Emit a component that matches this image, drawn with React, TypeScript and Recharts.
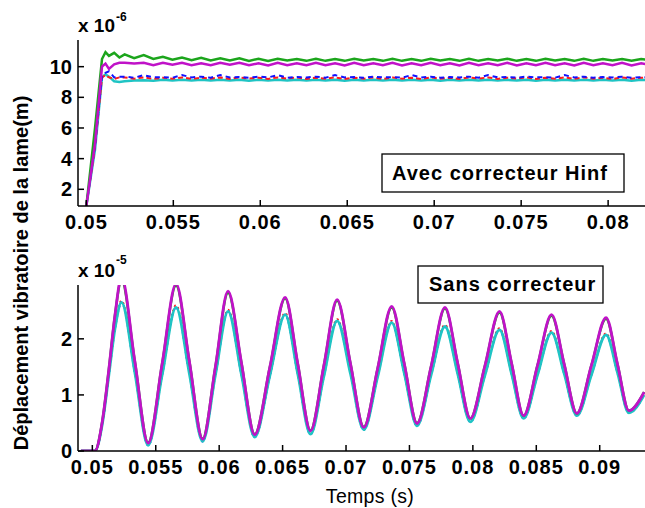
import React from "react";
import { LineChart, Line, XAxis, YAxis } from "recharts";

// ---------- Top panel: "Avec correcteur Hinf" (x 1e-6 m) ----------
const topTime = [
  0.05, 0.0505, 0.0509, 0.0511, 0.0513, 0.0516, 0.0519,
  0.0522, 0.05275, 0.0533, 0.05385, 0.0544, 0.05495, 0.0555, 0.05605, 0.0566, 0.05715,
  0.0577, 0.05825, 0.0588, 0.05935, 0.0599, 0.06045, 0.061, 0.06155, 0.0621, 0.06265,
  0.0632, 0.06375, 0.0643, 0.06485, 0.0654, 0.06595, 0.0665, 0.06705, 0.0676, 0.06815,
  0.0687, 0.06925, 0.0698, 0.07035, 0.0709, 0.07145, 0.072, 0.07255, 0.0731, 0.07365,
  0.0742, 0.07475, 0.0753, 0.07585, 0.0764, 0.07695, 0.0775, 0.07805, 0.0786, 0.07915,
  0.0797, 0.08025, 0.0808, 0.08135, 0.0819,
  0.0822,
];

const topGreen = [
  0.91, 6.0, 10.5, 10.95, 10.7, 10.9, 10.6,
  10.8, 10.55, 10.75, 10.5, 10.65, 10.45, 10.6, 10.42, 10.58, 10.4,
  10.55, 10.4, 10.55, 10.38, 10.52, 10.38, 10.52, 10.4, 10.5, 10.38,
  10.52, 10.38, 10.5, 10.38, 10.52, 10.4, 10.5, 10.38, 10.52, 10.38,
  10.5, 10.38, 10.52, 10.4, 10.5, 10.38, 10.52, 10.38, 10.5, 10.4,
  10.52, 10.38, 10.5, 10.38, 10.52, 10.4, 10.5, 10.38, 10.52, 10.38,
  10.5, 10.4, 10.5, 10.38, 10.5,
  10.45,
];

const topMagenta = [
  0.91, 5.0, 10.0, 10.2, 9.85, 10.15, 10.25,
  10.25, 10.2, 10.25, 10.1, 10.25, 10.12, 10.25, 10.1, 10.22, 10.1,
  10.25, 10.12, 10.25, 10.1, 10.22, 10.08, 10.25, 10.1, 10.22, 10.1,
  10.25, 10.1, 10.22, 10.08, 10.25, 10.1, 10.22, 10.1, 10.25, 10.08,
  10.22, 10.1, 10.25, 10.1, 10.22, 10.08, 10.25, 10.1, 10.22, 10.1,
  10.25, 10.08, 10.22, 10.1, 10.25, 10.1, 10.22, 10.08, 10.25, 10.1,
  10.22, 10.1, 10.25, 10.08, 10.22,
  10.15,
];

const topRed = [
  0.91, 4.8, 9.3, 9.45, 9.3, 9.2, 9.3,
  9.3, 9.22, 9.3, 9.2, 9.28, 9.22, 9.3, 9.2, 9.28, 9.22,
  9.3, 9.2, 9.3, 9.22, 9.28, 9.2, 9.3, 9.22, 9.3, 9.2,
  9.28, 9.22, 9.3, 9.2, 9.28, 9.22, 9.3, 9.2, 9.3, 9.22,
  9.28, 9.2, 9.3, 9.22, 9.28, 9.2, 9.3, 9.22, 9.3, 9.2,
  9.28, 9.22, 9.3, 9.2, 9.28, 9.22, 9.3, 9.2, 9.3, 9.22,
  9.28, 9.2, 9.3, 9.22, 9.28,
  9.25,
];

const topBlue = [
  0.91, 4.9, 9.4, 9.6, 9.7, 9.3, 9.35,
  9.35, 9.28, 9.45, 9.3, 9.32, 9.28, 9.45, 9.3, 9.35, 9.28,
  9.45, 9.3, 9.32, 9.28, 9.35, 9.3, 9.45, 9.28, 9.32, 9.3,
  9.35, 9.28, 9.45, 9.3, 9.32, 9.28, 9.35, 9.3, 9.32, 9.28,
  9.45, 9.3, 9.35, 9.28, 9.32, 9.3, 9.35, 9.28, 9.45, 9.3,
  9.32, 9.28, 9.35, 9.3, 9.32, 9.28, 9.45, 9.3, 9.35, 9.28,
  9.32, 9.3, 9.35, 9.28, 9.32,
  9.3,
];

const topCyan = [
  0.91, 4.6, 9.3, 9.5, 9.35, 9.05, 9.0,
  9.05, 9.1, 9.12, 9.08, 9.14, 9.1, 9.15, 9.1, 9.14, 9.1,
  9.15, 9.1, 9.14, 9.08, 9.15, 9.1, 9.14, 9.1, 9.15, 9.1,
  9.14, 9.1, 9.15, 9.08, 9.14, 9.1, 9.15, 9.1, 9.14, 9.1,
  9.15, 9.1, 9.14, 9.08, 9.15, 9.1, 9.14, 9.1, 9.15, 9.1,
  9.14, 9.1, 9.15, 9.08, 9.14, 9.1, 9.15, 9.1, 9.14, 9.1,
  9.15, 9.1, 9.14, 9.08, 9.14,
  9.12,
];

const topXTicks = [0.05, 0.055, 0.06, 0.065, 0.07, 0.075, 0.08];
const topXTickLabels = ["0.05", "0.055", "0.06", "0.065", "0.07", "0.075", "0.08"];
const topYTicks = [2, 4, 6, 8, 10];
const topYTickLabels = ["2", "4", "6", "8", "10"];

// ---------- Bottom panel: "Sans correcteur" (x 1e-5 m) ----------
const bottomTime = [
  0.0491, 0.0502, 0.0508, 0.0513, 0.0518,
  0.0523, 0.05335, 0.0544, 0.0555,
  0.0566, 0.05765, 0.0587, 0.0597,
  0.0607, 0.06175, 0.0628, 0.064,
  0.0652, 0.0662, 0.0672, 0.06825,
  0.0693, 0.07035, 0.0714, 0.0725,
  0.0736, 0.0746, 0.0756, 0.0767,
  0.0778, 0.0788, 0.0798, 0.08095,
  0.0821, 0.08305, 0.084, 0.0851,
  0.0862, 0.0872, 0.0882, 0.08935,
  0.0905, 0.0914, 0.0923, 0.0935,
];

const bottomMagenta = [
  0, 0, 0.55, 1.45, 2.45,
  3.1, 1.6, 0.14, 1.55,
  2.98, 1.6, 0.21, 1.5,
  2.85, 1.58, 0.29, 1.5,
  2.74, 1.55, 0.36, 1.52,
  2.7, 1.56, 0.42, 1.48,
  2.58, 1.55, 0.49, 1.5,
  2.56, 1.57, 0.58, 1.52,
  2.49, 1.57, 0.63, 1.53,
  2.43, 1.55, 0.67, 1.53,
  2.38, 1.55, 0.72, 1.05,
];

const bottomGreen = [
  0, 0, 0.55, 1.45, 2.45,
  3.05, 1.6, 0.15, 1.55,
  2.95, 1.6, 0.22, 1.5,
  2.82, 1.58, 0.3, 1.5,
  2.72, 1.55, 0.37, 1.52,
  2.68, 1.56, 0.43, 1.48,
  2.56, 1.55, 0.5, 1.5,
  2.54, 1.57, 0.58, 1.52,
  2.47, 1.57, 0.63, 1.53,
  2.41, 1.55, 0.67, 1.53,
  2.36, 1.55, 0.72, 1.05,
];

const bottomCyan = [
  0, 0, 0.5, 1.35, 2.2,
  2.65, 1.4, 0.1, 1.35,
  2.56, 1.38, 0.17, 1.35,
  2.49, 1.37, 0.25, 1.35,
  2.43, 1.37, 0.3, 1.33,
  2.32, 1.38, 0.38, 1.33,
  2.29, 1.38, 0.45, 1.35,
  2.22, 1.38, 0.52, 1.35,
  2.16, 1.38, 0.58, 1.36,
  2.11, 1.38, 0.63, 1.36,
  2.07, 1.4, 0.68, 1.0,
];

const bottomRed = [
  0, 0, 0.52, 1.38, 2.25,
  2.68, 1.42, 0.12, 1.37,
  2.6, 1.4, 0.19, 1.36,
  2.52, 1.38, 0.26, 1.36,
  2.46, 1.38, 0.32, 1.34,
  2.35, 1.39, 0.4, 1.34,
  2.32, 1.39, 0.47, 1.36,
  2.25, 1.39, 0.54, 1.36,
  2.19, 1.39, 0.6, 1.37,
  2.14, 1.39, 0.65, 1.37,
  2.1, 1.41, 0.7, 1.02,
];

const bottomBlue = bottomCyan;

const bottomXTicks = [0.05, 0.055, 0.06, 0.065, 0.07, 0.075, 0.08, 0.085, 0.09];
const bottomXTickLabels = ["0.05", "0.055", "0.06", "0.065", "0.07", "0.075", "0.08", "0.085", "0.09"];
const bottomYTicks = [0, 1, 2];
const bottomYTickLabels = ["0", "1", "2"];

const FONT = "'Liberation Sans', Arial, Helvetica, sans-serif";
const C_GREEN = "#1ca51c";
const C_MAGENTA = "#c012c8";
const C_RED = "#ff1a1a";
const C_BLUE = "#1010ff";
const C_CYAN = "#1fc4c4";

const topData = topTime.map((t, i) => ({
  t,
  green: topGreen[i],
  magenta: topMagenta[i],
  red: topRed[i],
  blue: topBlue[i],
  cyan: topCyan[i],
}));

const bottomData = bottomTime.map((t, i) => ({
  t,
  green: bottomGreen[i],
  magenta: bottomMagenta[i],
  red: bottomRed[i],
  blue: bottomBlue[i],
  cyan: bottomCyan[i],
}));

function makeXTick(ticks: number[], labels: string[], dy: number) {
  return (props: any) => {
    const { x, y, payload } = props;
    const idx = ticks.indexOf(payload.value);
    const label = idx >= 0 ? labels[idx] : String(payload.value);
    return (
      <g>
        <line x1={x} x2={x} y1={y} y2={y - 6} stroke="#000" strokeWidth={1.5} />
        <text
          x={x}
          y={y + dy}
          textAnchor="middle"
          dominantBaseline="central"
          fontFamily={FONT}
          fontSize={20}
          fontWeight="bold"
          letterSpacing={1}
          fill="#000"
        >
          {label}
        </text>
      </g>
    );
  };
}

function makeYTick(ticks: number[], labels: string[]) {
  return (props: any) => {
    const { x, y, payload } = props;
    const idx = ticks.indexOf(payload.value);
    const label = idx >= 0 ? labels[idx] : String(payload.value);
    return (
      <g>
        <line x1={x} x2={x + 6} y1={y} y2={y} stroke="#000" strokeWidth={1.5} />
        <text
          x={x - 6}
          y={y}
          textAnchor="end"
          dominantBaseline="central"
          fontFamily={FONT}
          fontSize={20}
          fontWeight="bold"
          fill="#000"
        >
          {label}
        </text>
      </g>
    );
  };
}

const axisLine = { stroke: "#000", strokeWidth: 1.5 };

export default function App() {
  return (
    <div
      style={{
        position: "absolute",
        left: 0,
        top: 0,
        width: 645,
        height: 508,
        background: "#fff",
        overflow: "hidden",
        fontFamily: FONT,
      }}
    >
      <div style={{ position: "absolute", left: 0, top: 0 }}>
        <LineChart width={645} height={240} data={topData} margin={{ top: 40, right: 0, bottom: 0, left: 0 }}>
          <XAxis
            type="number"
            dataKey="t"
            domain={[0.04952, 0.08212]}
            ticks={topXTicks}
            allowDataOverflow
            height={34}
            tickSize={0}
            tickMargin={0}
            tickLine={false}
            axisLine={axisLine}
            tick={makeXTick(topXTicks, topXTickLabels, 16)}
            interval={0}
          />
          <YAxis
            type="number"
            domain={[0.91, 11.74]}
            ticks={topYTicks}
            allowDataOverflow
            width={78}
            tickSize={0}
            tickMargin={0}
            tickLine={false}
            axisLine={axisLine}
            tick={makeYTick(topYTicks, topYTickLabels)}
            interval={0}
          />
          <Line type="linear" dataKey="cyan" stroke={C_CYAN} strokeWidth={2.5} dot={false} isAnimationActive={false} />
          <Line type="linear" dataKey="red" stroke={C_RED} strokeWidth={2} strokeDasharray="5 3" dot={false} isAnimationActive={false} />
          <Line type="linear" dataKey="blue" stroke={C_BLUE} strokeWidth={2} strokeDasharray="5 4" dot={false} isAnimationActive={false} />
          <Line type="linear" dataKey="green" stroke={C_GREEN} strokeWidth={2.5} dot={false} isAnimationActive={false} />
          <Line type="linear" dataKey="magenta" stroke={C_MAGENTA} strokeWidth={2.5} dot={false} isAnimationActive={false} />
        </LineChart>
      </div>

      <div style={{ position: "absolute", left: 0, top: 245 }}>
        <LineChart width={645} height={263} data={bottomData} margin={{ top: 40, right: 0, bottom: 0, left: 0 }}>
          <XAxis
            type="number"
            dataKey="t"
            domain={[0.04887, 0.09357]}
            ticks={bottomXTicks}
            allowDataOverflow
            height={57}
            tickSize={0}
            tickMargin={0}
            tickLine={false}
            axisLine={axisLine}
            tick={makeXTick(bottomXTicks, bottomXTickLabels, 16)}
            interval={0}
          />
          <YAxis
            type="number"
            domain={[0, 2.96]}
            ticks={bottomYTicks}
            allowDataOverflow
            width={78}
            tickSize={0}
            tickMargin={0}
            tickLine={false}
            axisLine={axisLine}
            tick={makeYTick(bottomYTicks, bottomYTickLabels)}
            interval={0}
          />
          <Line type="monotone" dataKey="red" stroke={C_RED} strokeWidth={2} strokeDasharray="2 3" dot={false} isAnimationActive={false} />
          <Line type="monotone" dataKey="blue" stroke={C_BLUE} strokeWidth={2} strokeDasharray="2 3" dot={false} isAnimationActive={false} />
          <Line type="monotone" dataKey="cyan" stroke={C_CYAN} strokeWidth={2.8} dot={false} isAnimationActive={false} />
          <Line type="monotone" dataKey="green" stroke={C_GREEN} strokeWidth={2.5} dot={false} isAnimationActive={false} />
          <Line type="monotone" dataKey="magenta" stroke={C_MAGENTA} strokeWidth={2.8} dot={false} isAnimationActive={false} />
        </LineChart>
      </div>

      <svg
        width={645}
        height={508}
        style={{ position: "absolute", left: 0, top: 0, pointerEvents: "none" }}
      >
        {/* exponent labels */}
        <text x={78} y={32} fontFamily={FONT} fontSize={19} fontWeight="bold" fill="#000">
          x 10
        </text>
        <text x={116} y={21} fontFamily={FONT} fontSize={12} fontWeight="bold" fill="#000">
          -6
        </text>
        <text x={78} y={277} fontFamily={FONT} fontSize={19} fontWeight="bold" fill="#000">
          x 10
        </text>
        <text x={116} y={264} fontFamily={FONT} fontSize={12} fontWeight="bold" fill="#000">
          -5
        </text>

        {/* y-axis label */}
        <text
          transform="translate(28, 273) rotate(-90)"
          textAnchor="middle"
          fontFamily={FONT}
          fontSize={20}
          fontWeight="bold"
          fill="#000"
        >
          Déplacement vibratoire de la lame(m)
        </text>

        {/* x-axis label */}
        <text x={370} y={503} textAnchor="middle" fontFamily={FONT} fontSize={19.5} fill="#000" letterSpacing={0.3}>
          Temps (s)
        </text>

        {/* annotation boxes */}
        <rect x={382} y={154} width={242} height={38} fill="#fff" stroke="#000" strokeWidth={1.3} />
        <text x={392} y={180} fontFamily={FONT} fontSize={20} fontWeight="bold" letterSpacing={1} fill="#000">
          Avec correcteur Hinf
        </text>
        <rect x={418} y={266} width={185} height={37} fill="#fff" stroke="#000" strokeWidth={1.3} />
        <text x={429} y={291} fontFamily={FONT} fontSize={20} fontWeight="bold" letterSpacing={1} fill="#000">
          Sans correcteur
        </text>
      </svg>
    </div>
  );
}
